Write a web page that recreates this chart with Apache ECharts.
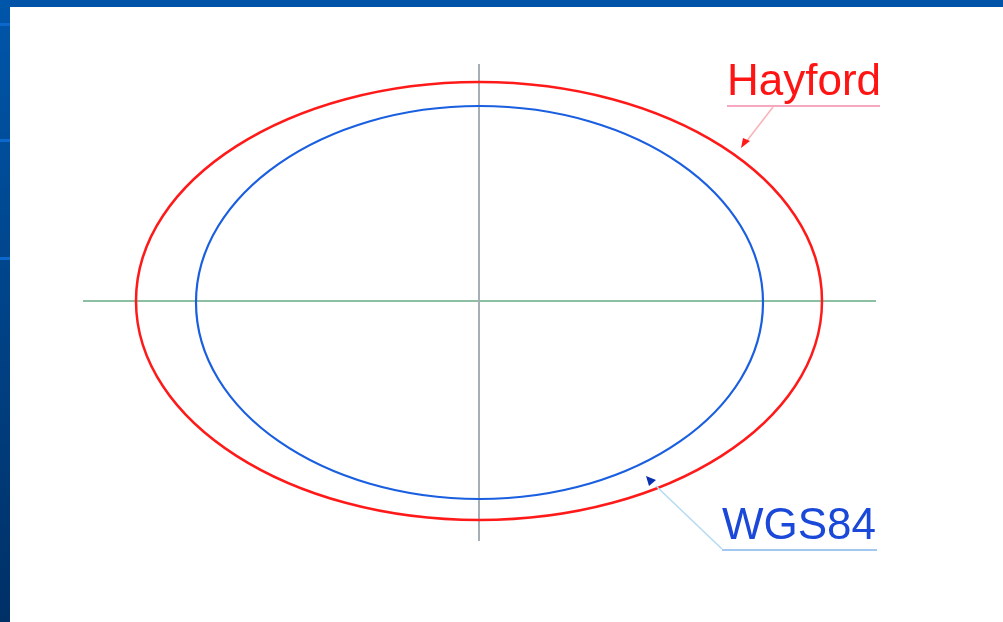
<!DOCTYPE html>
<html><head><meta charset="utf-8">
<script src="https://cdn.jsdelivr.net/npm/echarts@6/dist/echarts.min.js"></script>
<style>html,body{margin:0;padding:0;background:#fff}#c{width:1003px;height:622px}</style>
</head><body><div id="c"></div>
<script>
// Ellipse parameters (drawing units, centre of figure = origin, y up)
const ellipseNames = ['Hayford', 'WGS84'];
const centerX = [0, 0.5];
const centerY = [0, -1.5];
const semiMajor = [343, 283.5];
const semiMinor = [219, 196.5];
// Reference axes drawn through the centre
const axisXExtent = [-396, 397];
const axisYExtent = [-240, 237];

const ellipseColors = ['#ff1a1a', '#1a5fe0'];

const chart = echarts.init(document.getElementById('c'));

const ellipseSeries = ellipseNames.map((name, i) => ({
  type: 'custom',
  name: name,
  silent: true,
  z: 3,
  data: [[centerX[i], centerY[i], semiMajor[i], semiMinor[i]]],
  renderItem: function (params, api) {
    const c = api.coord([api.value(0), api.value(1)]);
    const e = api.coord([api.value(0) + api.value(2), api.value(1) + api.value(3)]);
    return {
      type: 'ellipse',
      shape: { cx: c[0], cy: c[1], rx: Math.abs(e[0] - c[0]), ry: Math.abs(e[1] - c[1]) },
      style: { fill: 'none', stroke: ellipseColors[i], lineWidth: i === 0 ? 2.5 : 2.2 }
    };
  }
}));

const option = {
  backgroundColor: '#ffffff',
  animation: false,
  grid: { left: 0, right: 0, top: 0, bottom: 0 },
  xAxis: { type: 'value', min: -479, max: 524, show: false },
  yAxis: { type: 'value', min: -321, max: 301, show: false },
  series: [
    {
      type: 'line', silent: true, symbol: 'none', z: 2,
      data: [[axisXExtent[0], 0], [axisXExtent[1], 0]],
      lineStyle: { color: '#8dbfa2', width: 2 }
    },
    {
      type: 'line', silent: true, symbol: 'none', z: 2,
      data: [[0, axisYExtent[0]], [0, axisYExtent[1]]],
      lineStyle: { color: '#a6aeb6', width: 2 }
    }
  ].concat(ellipseSeries),
  graphic: [
    { type: 'rect', shape: { x: 0, y: 0, width: 1003, height: 7 }, style: { fill: '#0053a6' }, z: 100 },
    { type: 'rect', shape: { x: 0, y: 0, width: 10, height: 622 }, z: 100,
      style: { fill: new echarts.graphic.LinearGradient(0, 0, 0, 1, [
        { offset: 0, color: '#0056aa' }, { offset: 1, color: '#003066' }]) } },
    { type: 'rect', shape: { x: 0, y: 23, width: 10, height: 3 }, style: { fill: '#0b68cc' }, z: 101 },
    { type: 'rect', shape: { x: 0, y: 139, width: 10, height: 3 }, style: { fill: '#0b68cc' }, z: 101 },
    { type: 'rect', shape: { x: 0, y: 257, width: 10, height: 3 }, style: { fill: '#0b68cc' }, z: 101 },
    // Hayford label
    { type: 'text', x: 727, y: 61, z: 50,
      style: { text: 'Hayford', fill: '#ff1414', font: '44px "Liberation Sans", Arial, sans-serif' } },
    { type: 'line', z: 50, shape: { x1: 727, y1: 106, x2: 880, y2: 106 }, style: { stroke: '#f7a7bf', lineWidth: 2 } },
    { type: 'line', z: 50, shape: { x1: 773, y1: 107, x2: 746, y2: 142 }, style: { stroke: '#f9b2b8', lineWidth: 1.5 } },
    { type: 'polygon', z: 51, shape: { points: [[741, 148], [743, 138], [750, 141]] }, style: { fill: '#ff1a1a' } },
    // WGS84 label
    { type: 'text', x: 722, y: 505, z: 50,
      style: { text: 'WGS84', fill: '#1a48d8', font: '44px "Liberation Sans", Arial, sans-serif' } },
    { type: 'line', z: 50, shape: { x1: 722, y1: 550, x2: 877, y2: 550 }, style: { stroke: '#a2c8f2', lineWidth: 2 } },
    { type: 'line', z: 50, shape: { x1: 722, y1: 549, x2: 656, y2: 486 }, style: { stroke: '#b4daf2', lineWidth: 1.5 } },
    { type: 'polygon', z: 51, shape: { points: [[646, 476], [649, 486], [656, 480]] }, style: { fill: '#0a2fb0' } }
  ]
};
chart.setOption(option);
</script></body></html>
